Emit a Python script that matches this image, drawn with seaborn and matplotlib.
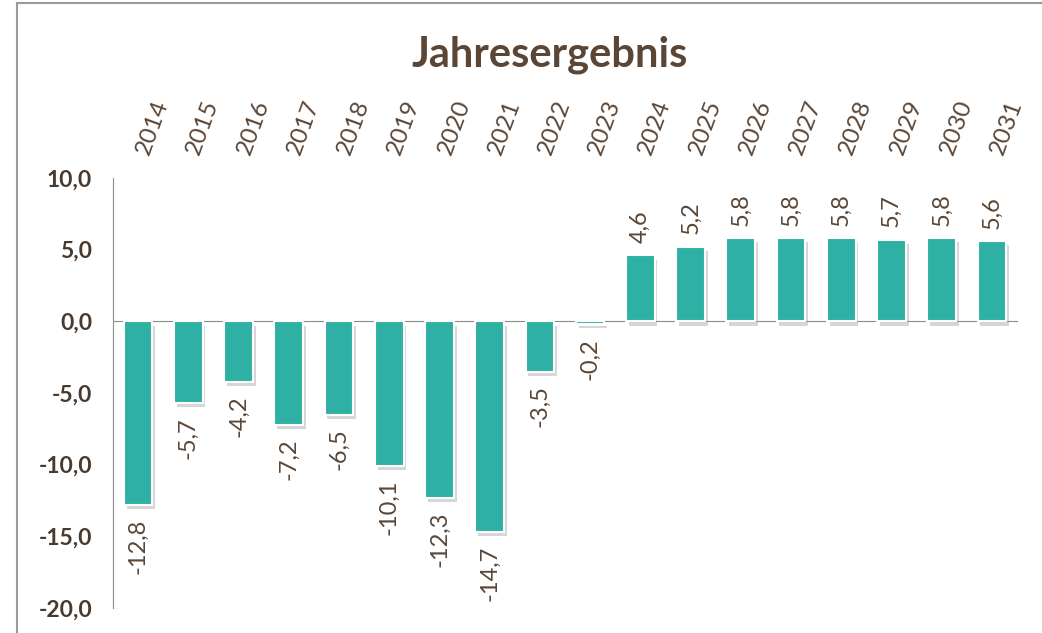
import matplotlib
matplotlib.use("Agg")
import matplotlib.pyplot as plt
import matplotlib.patches as mpatches
import matplotlib.patheffects as pe
import seaborn as sns
import pandas as pd

# Daten
jahre = ['2014', '2015', '2016', '2017', '2018', '2019', '2020', '2021', '2022',
         '2023', '2024', '2025', '2026', '2027', '2028', '2029', '2030', '2031']
ergebnis = [-12.8, -5.7, -4.2, -7.2, -6.5, -10.1, -12.3, -14.7, -3.5,
            -0.2, 4.6, 5.2, 5.8, 5.8, 5.8, 5.7, 5.8, 5.6]
y_ticks = [-20, -15, -10, -5, 0, 5, 10]

df = pd.DataFrame({'Jahr': jahre, 'Ergebnis': ergebnis})

sns.set_style("white")
plt.rcParams['font.family'] = ['Lato', 'DejaVu Sans']

braun = '#5b4636'
tuerkis = '#2eb1a4'

fig = plt.figure(figsize=(10.42, 6.33), dpi=100)
ax = fig.add_axes([113/1042, 1-608/633, (1017-113)/1042, (608-178)/633])

# aeusserer Rahmen
fig.patches.append(mpatches.Rectangle((17/1042, -0.1), 1.1, 1.1 - 3/633,
                                      transform=fig.transFigure, fill=False,
                                      edgecolor='#9a9a9a', linewidth=1.5))

sns.barplot(data=df, x='Jahr', y='Ergebnis', color=tuerkis, width=0.57,
            edgecolor='white', linewidth=1.5, saturation=1, ax=ax)
for bar in ax.patches:
    bar.set_path_effects([pe.SimplePatchShadow(offset=(2, -3), shadow_rgbFace='#999999', alpha=0.4),
                          pe.Normal()])

ax.set_ylim(-20, 10)
ax.set_xlim(-0.5, len(jahre) - 0.5)
ax.set_yticks(y_ticks)
ax.set_yticklabels([f"{t:.1f}".replace('.', ',') for t in y_ticks],
                   fontsize=16.5, fontweight='bold', color='#4a3a2d')
ax.tick_params(axis='y', length=0, pad=15)

# Jahreszahlen oben, schraeg
ax.tick_params(axis='x', length=0, labelbottom=False, labeltop=False)
for i, j in enumerate(jahre):
    ax.annotate(j, xy=(i, 1), xycoords=('data', 'axes fraction'),
                xytext=(3.5, 17.5), textcoords='offset points',
                rotation=70, rotation_mode='anchor', ha='left', va='center',
                fontsize=17.5, color=braun)
ax.set_xlabel('')
ax.set_ylabel('')

for s in ['top', 'right']:
    ax.spines[s].set_visible(False)
ax.spines['bottom'].set_position(('data', 0))
ax.spines['bottom'].set_color('#8c8c8c')
ax.spines['left'].set_color('#8c8c8c')
ax.spines['bottom'].set_zorder(0)

for i, v in enumerate(ergebnis):
    txt = f"{v:.1f}".replace('.', ',')
    if v >= 0:
        ax.annotate(txt, (i, v), xytext=(0, 9), textcoords='offset points',
                    rotation=90, ha='center', va='bottom', fontsize=17, color=braun)
    else:
        ax.annotate(txt, (i, v), xytext=(0, -10), textcoords='offset points',
                    rotation=90, ha='center', va='top', fontsize=17, color=braun)

fig.text(550/1042, 1-67/633, 'Jahresergebnis', ha='center', va='baseline',
         fontsize=30, fontweight='bold', color=braun)

fig.savefig('out.png', dpi=100)
